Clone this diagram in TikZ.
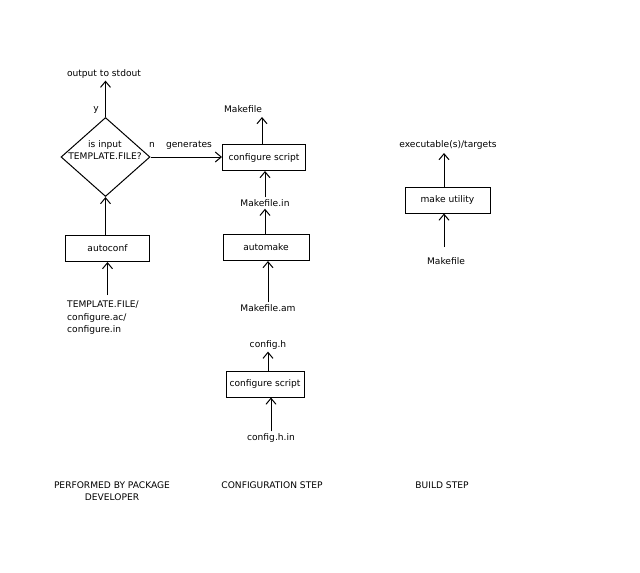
\documentclass[tikz,border=0pt]{standalone}
\usepackage{fontspec}
\setmainfont{DejaVu Sans}
\usetikzlibrary{shapes.geometric,arrows.meta}
\begin{document}
\begin{tikzpicture}[x=1pt,y=-1pt,
  every node/.style={font=\fontsize{9.1}{12.5}\selectfont},
  txt/.style={inner sep=2pt},
  box/.style={draw,line width=1pt,minimum height=26pt,inner sep=0pt},
  arr/.style={line width=1pt,-{Straight Barb[length=6pt,width=10pt,line width=1pt]}}]
\useasboundingbox (0,0) rectangle (640,573);
% column 1
\node[diamond,draw,line width=1pt,minimum width=89pt,minimum height=79pt,inner sep=0pt] (dec) at (105.5,157) {};
\node[align=center,inner sep=0pt] (dectxt) at (105,150) {is input\\TEMPLATE.FILE?};
\node[txt] (out) at (104,74) {output to stdout};
\node[txt] (y) at (96,110) {y};
\node[txt] (n) at (152,145) {n};
\node[txt] (gen) at (189,145) {generates};
\node[box,minimum width=84pt] (autoconf) at (107.5,248.5) {autoconf};
\node[txt,align=left,anchor=north west] (tf) at (65,299) {TEMPLATE.FILE/\\configure.ac/\\configure.in};
\draw[arr] (tf.north -| autoconf.south) ++(0,-4) -- (autoconf.south);
\draw[arr] (autoconf.north -| dec.south) -- (dec.south);
\draw[arr] (dec.north) -- (out.south -| dec.north);
% column 2
\node[box,minimum width=83pt] (cs1) at (264,157.5) {configure script};
\node[txt] (mf) at (243,109) {Makefile};
\node[txt] (mfin) at (265,203) {Makefile.in};
\node[box,minimum width=86pt] (automake) at (266,247.5) {automake};
\node[txt] (mam) at (268,308) {Makefile.am};
\draw[arr] (dec.east) -- (dec.east -| cs1.west);
\draw[arr] (cs1.north -| 262,0) -- (262,117);
\draw[arr] (mfin.north) -- (mfin.north |- cs1.south);
\draw[arr] (automake.north -| mfin.north) -- (mfin.south);
\draw[arr] (mam.north) -- (mam.north |- automake.south);
\node[box,minimum width=78pt] (cs2) at (265,384) {configure script};
\node[txt] (ch) at (268,345) {config.h};
\node[txt] (chin) at (271,438) {config.h.in};
\draw[arr] (cs2.north -| ch.south) -- (ch.south);
\draw[arr] (chin.north) -- (chin.north |- cs2.south);
% column 3
\node[txt] (exe) at (448,145) {executable(s)/targets};
\node[box,minimum width=85pt] (make) at (447.5,200) {make utility};
\node[txt] (mf2) at (446,261) {Makefile};
\draw[arr] (make.north -| 444,0) -- (444,153);
\draw[arr] (444,247) -- (make.south -| 444,0);
% footer
\node[align=center,inner sep=0pt] (l1) at (112,491) {PERFORMED BY PACKAGE\\DEVELOPER};
\node[inner sep=0pt] (l2) at (272,485) {CONFIGURATION STEP};
\node[inner sep=0pt] (l3) at (442,485) {BUILD STEP};
\end{tikzpicture}
\end{document}
